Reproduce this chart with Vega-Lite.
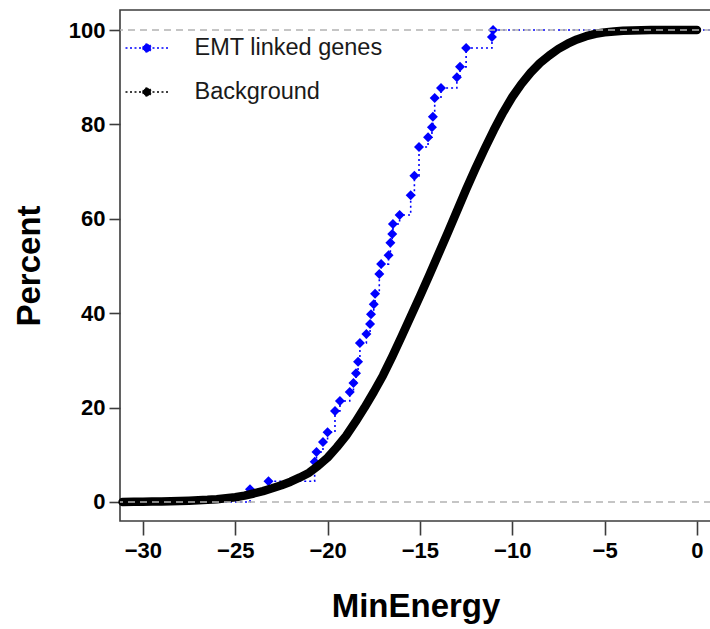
{
  "$schema": "https://vega.github.io/schema/vega-lite/v6.json",
  "width": 591,
  "height": 511,
  "autosize": {"type": "none"},
  "padding": {"left": 120, "top": 10, "right": 0, "bottom": 108},
  "background": "white",
  "config": {
    "view": {"stroke": "#3c3c3c", "strokeWidth": 1.6},
    "font": "Liberation Sans",
    "axis": {
      "grid": false, "domain": false, "tickColor": "#3c3c3c", "tickWidth": 1.6,
      "labelFont": "Liberation Sans", "labelFontWeight": "bold", "labelFontSize": 22, "labelColor": "#000",
      "titleFont": "Liberation Sans", "titleFontWeight": "bold", "titleFontSize": 33, "titleColor": "#000",
      "labelFlush": false, "labelOverlap": false
    }
  },
  "datasets": {
    "emt": [
      {"x": -31.24, "y": 0, "pt": false},
      {"x": -24.2, "y": 2.7, "pt": true},
      {"x": -23.2, "y": 4.4, "pt": true},
      {"x": -20.7, "y": 8.5, "pt": true},
      {"x": -20.6, "y": 10.6, "pt": true},
      {"x": -20.25, "y": 12.7, "pt": true},
      {"x": -20.0, "y": 14.8, "pt": true},
      {"x": -19.6, "y": 19.3, "pt": true},
      {"x": -19.33, "y": 21.4, "pt": true},
      {"x": -18.8, "y": 23.3, "pt": true},
      {"x": -18.6, "y": 25.2, "pt": true},
      {"x": -18.46, "y": 27.3, "pt": true},
      {"x": -18.35, "y": 29.7, "pt": true},
      {"x": -18.25, "y": 33.7, "pt": true},
      {"x": -17.9, "y": 35.6, "pt": true},
      {"x": -17.7, "y": 37.7, "pt": true},
      {"x": -17.65, "y": 39.8, "pt": true},
      {"x": -17.5, "y": 41.9, "pt": true},
      {"x": -17.43, "y": 44.1, "pt": true},
      {"x": -17.2, "y": 48.3, "pt": true},
      {"x": -17.1, "y": 50.4, "pt": true},
      {"x": -16.7, "y": 52.3, "pt": true},
      {"x": -16.6, "y": 54.9, "pt": true},
      {"x": -16.5, "y": 56.8, "pt": true},
      {"x": -16.46, "y": 58.9, "pt": true},
      {"x": -16.1, "y": 60.8, "pt": true},
      {"x": -15.5, "y": 65.0, "pt": true},
      {"x": -15.3, "y": 69.1, "pt": true},
      {"x": -15.05, "y": 75.2, "pt": true},
      {"x": -14.56, "y": 77.3, "pt": true},
      {"x": -14.35, "y": 79.4, "pt": true},
      {"x": -14.3, "y": 81.6, "pt": true},
      {"x": -14.2, "y": 85.6, "pt": true},
      {"x": -13.86, "y": 87.7, "pt": true},
      {"x": -13.0, "y": 90.0, "pt": true},
      {"x": -12.83, "y": 92.2, "pt": true},
      {"x": -12.5, "y": 96.2, "pt": true},
      {"x": -11.1, "y": 98.5, "pt": true},
      {"x": -11.04, "y": 100, "pt": true},
      {"x": 0.76, "y": 100, "pt": false}
    ],
    "bg": [
      {"x": -31.1, "y": 0}, {"x": -30.5, "y": 0.03}, {"x": -30, "y": 0.05}, {"x": -29.5, "y": 0.08},
      {"x": -29, "y": 0.1}, {"x": -28.5, "y": 0.15}, {"x": -28, "y": 0.2}, {"x": -27.5, "y": 0.27},
      {"x": -27, "y": 0.35}, {"x": -26.5, "y": 0.45}, {"x": -26, "y": 0.6}, {"x": -25.5, "y": 0.8},
      {"x": -25, "y": 1.0}, {"x": -24.5, "y": 1.35}, {"x": -24, "y": 1.8}, {"x": -23.5, "y": 2.3},
      {"x": -23, "y": 2.9}, {"x": -22.5, "y": 3.55}, {"x": -22, "y": 4.3}, {"x": -21.5, "y": 5.2},
      {"x": -21, "y": 6.2}, {"x": -20.5, "y": 7.7}, {"x": -20, "y": 9.4}, {"x": -19.5, "y": 11.6},
      {"x": -19, "y": 14.0}, {"x": -18.5, "y": 16.9}, {"x": -18, "y": 20.0}, {"x": -17.5, "y": 23.3},
      {"x": -17, "y": 26.8}, {"x": -16.5, "y": 30.8}, {"x": -16, "y": 35.0}, {"x": -15.5, "y": 39.3},
      {"x": -15, "y": 43.6}, {"x": -14.5, "y": 48.0}, {"x": -14, "y": 52.5}, {"x": -13.5, "y": 57.0},
      {"x": -13, "y": 61.6}, {"x": -12.5, "y": 66.2}, {"x": -12, "y": 70.6}, {"x": -11.5, "y": 74.8},
      {"x": -11, "y": 78.8}, {"x": -10.5, "y": 82.5}, {"x": -10, "y": 85.8}, {"x": -9.5, "y": 88.6},
      {"x": -9, "y": 91.0}, {"x": -8.5, "y": 93.0}, {"x": -8, "y": 94.6}, {"x": -7.5, "y": 96.0},
      {"x": -7, "y": 97.1}, {"x": -6.5, "y": 98.0}, {"x": -6, "y": 98.7}, {"x": -5.5, "y": 99.2},
      {"x": -5, "y": 99.5}, {"x": -4.5, "y": 99.7}, {"x": -4, "y": 99.85}, {"x": -3.5, "y": 99.9},
      {"x": -3, "y": 99.95}, {"x": -2.5, "y": 100}, {"x": -2, "y": 100}, {"x": -1, "y": 100}, {"x": 0, "y": 100}
    ]
  },
  "layer": [
    {
      "data": {"name": "emt"},
      "mark": {"type": "line", "interpolate": "step-after", "strokeDash": [2, 3], "strokeWidth": 1.6},
      "encoding": {
        "x": {"field": "x", "type": "quantitative",
          "scale": {"domain": [-31.24, 0.76], "nice": false, "zero": false},
          "axis": {"values": [-30, -25, -20, -15, -10, -5, 0], "tickSize": 14, "labelPadding": 5, "title": "MinEnergy", "titlePadding": 29}},
        "y": {"field": "y", "type": "quantitative",
          "scale": {"domain": [-4.03, 104.24], "nice": false, "zero": false},
          "axis": {"values": [0, 20, 40, 60, 80, 100], "tickSize": 11, "labelPadding": 4, "title": "Percent", "titlePadding": 22}},
        "color": {"datum": "EMT linked genes",
          "scale": {"domain": ["EMT linked genes", "Background"], "range": ["#0000ff", "#000000"]},
          "legend": {
            "title": null, "orient": "none", "legendX": 4.5, "legendY": 15.5, "padding": 0,
            "symbolType": "M-1,0L1,0M-0.186,0A0.186,0.186 0 1,0 0.186,0A0.186,0.186 0 1,0 -0.186,0Z",
            "symbolSize": 1849, "symbolStrokeWidth": 1.5, "symbolDash": [2, 2.5],
            "labelFont": "Liberation Sans", "labelFontSize": 23.5, "labelColor": "#1a1a1a", "labelLimit": 0,
            "labelOffset": 25, "rowPadding": 10,
            "encode": {"symbols": {"update": {"fill": {"scale": "color", "field": "value"}, "stroke": {"scale": "color", "field": "value"}, "opacity": {"value": 1}}}}
          }}
      }
    },
    {
      "data": {"name": "emt"},
      "transform": [{"filter": "datum.pt"}],
      "mark": {"type": "point", "shape": "diamond", "filled": true, "size": 100, "opacity": 1},
      "encoding": {
        "x": {"field": "x", "type": "quantitative"},
        "y": {"field": "y", "type": "quantitative"},
        "color": {"datum": "EMT linked genes"}
      }
    },
    {
      "data": {"name": "bg"},
      "mark": {"type": "line", "strokeWidth": 8.5, "strokeCap": "round", "strokeJoin": "round"},
      "encoding": {
        "x": {"field": "x", "type": "quantitative"},
        "y": {"field": "y", "type": "quantitative"},
        "color": {"datum": "Background"}
      }
    },
    {
      "data": {"values": [{"y": 0}, {"y": 100}]},
      "mark": {"type": "rule", "color": "#b3b3b3", "strokeDash": [7, 5], "strokeWidth": 1.5},
      "encoding": {"y": {"field": "y", "type": "quantitative"}}
    }
  ]
}
